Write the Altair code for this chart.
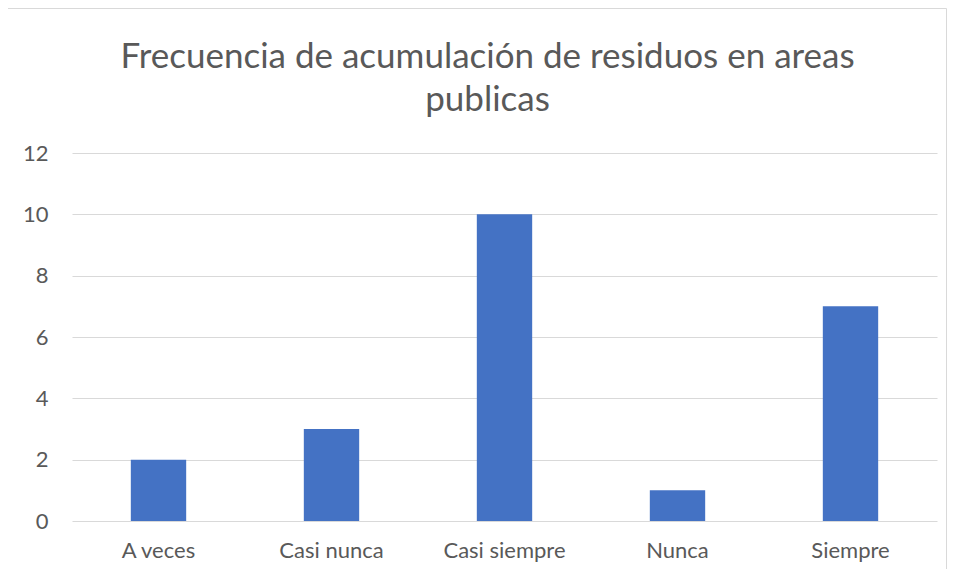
import altair as alt
import pandas as pd

categories = ["A veces", "Casi nunca", "Casi siempre", "Nunca", "Siempre"]
values = [2, 3, 10, 1, 7]
y_ticks = [0, 2, 4, 6, 8, 10, 12]
title_lines = ["Frecuencia de acumulación de residuos en areas", "publicas"]

df = pd.DataFrame({"categoria": categories, "valor": values})

W, H = 865, 368
FONT = "Lato"
GRAY = "#595959"

bars = alt.Chart(df).mark_bar(color="#4472C4").encode(
    x=alt.X(
        "categoria:N",
        sort=categories,
        scale=alt.Scale(paddingInner=0.68, paddingOuter=0.34),
        axis=alt.Axis(
            title=None, labelAngle=0, domain=False, ticks=False,
            labelFontSize=22, labelColor=GRAY, labelFont=FONT, labelPadding=19,
        ),
    ),
    y=alt.Y(
        "valor:Q",
        scale=alt.Scale(domain=[0, 12], nice=False),
        axis=alt.Axis(
            title=None, values=y_ticks, domain=False, ticks=False,
            gridColor="#d9d9d9", gridWidth=1,
            labelFontSize=22, labelColor=GRAY, labelFont=FONT, labelPadding=24,
        ),
    ),
)

frame = alt.Chart(pd.DataFrame({"f": [0]})).mark_rect(
    fill="transparent", stroke="#d9d9d9", strokeWidth=1
).encode(
    x=alt.value(-64.5), x2=alt.value(W + 9.5),
    y=alt.value(-144.5), y2=alt.value(H + 80),
)

chart = alt.layer(bars, frame).properties(
    width=W, height=H,
    padding={"left": 64, "top": 145, "right": 10, "bottom": 48},
    autosize=alt.AutoSizeParams(type="none"),
    title=alt.TitleParams(
        title_lines, fontSize=35, font=FONT, color=GRAY, fontWeight="normal",
        anchor="middle", lineHeight=43, offset=-110, dx=-17,
    ),
).configure_view(stroke=None)

chart.save("out.html", embed_options={"renderer": "svg", "actions": False})
